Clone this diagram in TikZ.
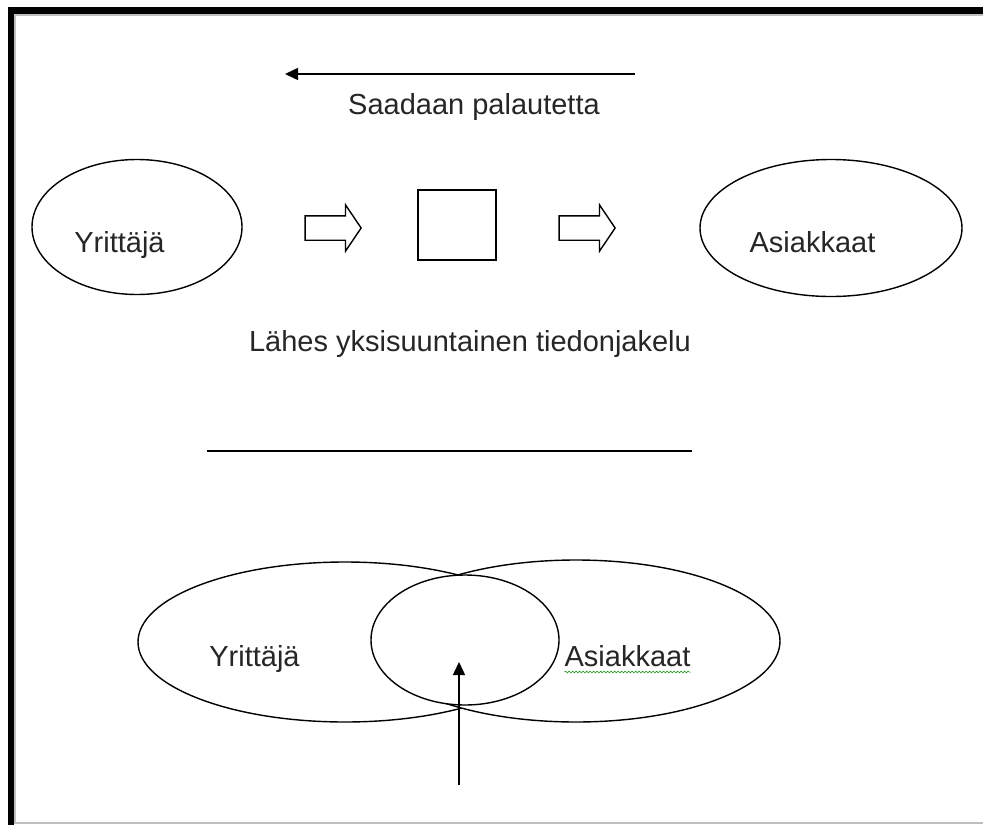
\documentclass[tikz,border=0pt]{standalone}
\usepackage{fontspec}
\setmainfont{Liberation Sans}
\usepackage{tikz}
\usetikzlibrary{shapes,arrows,positioning,calc,arrows.meta,decorations.pathmorphing}

\begin{document}
\begin{tikzpicture}[x=1pt,y=-1pt,
    lbl/.style={font=\fontsize{29}{34}\selectfont, text=black!85, inner sep=0pt, anchor=base},
    oval/.style={draw, ellipse, line width=1.4pt, fill=white, inner sep=0pt},
    blockarrow/.style={draw, single arrow, line width=1.4pt, minimum height=56pt, minimum width=45pt,
        single arrow head extend=11pt, single arrow tip angle=112, inner xsep=0pt, inner ysep=11.5pt},
    ptr/.style={line width=1.5pt, -{Triangle[length=13pt,width=12pt]}}]
    \useasboundingbox (0,0) rectangle (983,825);
    % frame
    \fill (8,7) rectangle (983,14);
    \fill (8,7) rectangle (14,825);
    \draw[black!25, line width=1.5pt] (983,15) -- (15,15) -- (15,823) -- (983,823);

    % feedback arrow
    \coordinate (fbR) at (635,74);
    \coordinate (fbL) at (285,74);
    \draw[ptr] (fbR) -- (fbL);
    \node[lbl] (fb) at (474,114) {Saadaan palautetta};

    % one-way row
    \node[oval, minimum width=210pt, minimum height=135pt] (ent1) at (137,227) {};
    \node[lbl] at (119.5,252) {Yrittäjä};
    \node[blockarrow] (ar1) at (329,228) {};
    \node[draw, line width=1.4pt, minimum width=78pt, minimum height=70pt, inner sep=0pt] (msg) at (457,225) {};
    \node[blockarrow] (ar2) at (583,228) {};
    \node[oval, minimum width=262pt, minimum height=137pt] (cust1) at (831,228) {};
    \node[lbl] at (812.5,252) {Asiakkaat};

    \node[lbl] (oneway) at (470,351) {Lähes yksisuuntainen tiedonjakelu};
    \coordinate (sepL) at (207,451);
    \coordinate (sepR) at (692,451);
    \draw[line width=1.4pt] (sepL) -- (sepR);

    % overlap
    \node[oval, minimum width=414pt, minimum height=160pt] (ent2) at (345,642) {};
    \node[oval, minimum width=408pt, minimum height=162pt] (cust2) at (576,641) {};
    \node[oval, minimum width=188pt, minimum height=130pt] (mid) at (465,640) {};
    \node[lbl] (ent2t) at (254.5,666) {Yrittäjä};
    \node[lbl] (cust2t) at (627.5,666) {Asiakkaat};
    \draw[green!55!black, line width=0.5pt, decorate, decoration={snake, amplitude=0.9pt, segment length=3.5pt}]
        ([yshift=-6pt]cust2t.base west) -- ([yshift=-6pt]cust2t.base east);
    \coordinate (dlg) at (459,785);
    \draw[ptr] (dlg) -- (459,662);
\end{tikzpicture}
\end{document}
